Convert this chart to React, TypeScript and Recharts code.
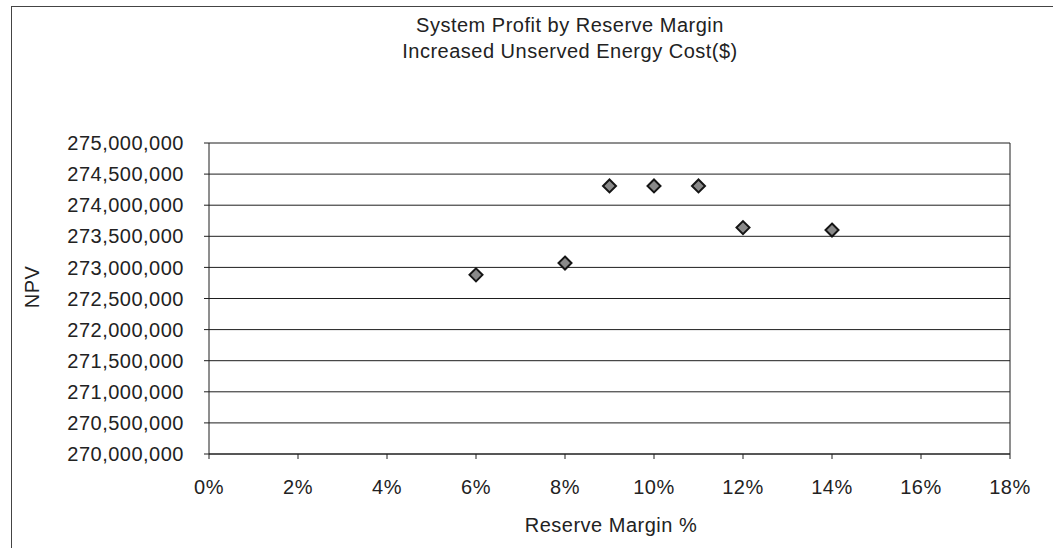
import React from 'react'
import {
  ScatterChart, Scatter, XAxis, YAxis, CartesianGrid, ReferenceLine,
} from 'recharts'

const reserveMargin = [6, 8, 9, 10, 11, 12, 14]
const npv = [272880000, 273070000, 274310000, 274310000, 274310000, 273640000, 273600000]
const xTicks = [0, 2, 4, 6, 8, 10, 12, 14, 16, 18]
const yTicks = [
  270000000, 270500000, 271000000, 271500000, 272000000, 272500000,
  273000000, 273500000, 274000000, 274500000, 275000000,
]

const points = reserveMargin.map((x, i) => ({ x, y: npv[i] }))

const FONT = '"Liberation Sans", Arial, sans-serif'

function Diamond({ cx, cy }: { cx?: number; cy?: number }) {
  if (cx == null || cy == null) return null
  const r = 6.5
  return (
    <polygon
      points={`${cx},${cy - r} ${cx + r},${cy} ${cx},${cy + r} ${cx - r},${cy}`}
      fill="#8a8a8a"
      stroke="#151515"
      strokeWidth={2}
    />
  )
}

export default function App() {
  return (
    <div style={{ position: 'fixed', left: 0, top: 0, width: 1053, height: 548, background: '#fff', fontFamily: FONT, letterSpacing: 0.5 }}>
      {/* outer chart border, right and bottom edges fall outside the scan */}
      <div style={{ position: 'absolute', left: 11, top: 6, width: 1060, height: 560, borderLeft: '1px solid #444', borderTop: '1px solid #444' }} />
      <div style={{ position: 'absolute', left: 0, top: 0 }}>
        <ScatterChart
          width={1053}
          height={548}
          margin={{ top: 143, right: 43, bottom: 54, left: 0 }}
          style={{ fontFamily: FONT, letterSpacing: 0.5 }}
        >
          <CartesianGrid vertical={false} stroke="#1e1e1e" strokeWidth={1} strokeOpacity={1} />
          <XAxis
            type="number"
            dataKey="x"
            domain={[0, 18]}
            ticks={xTicks}
            interval={0}
            tickFormatter={(v: number) => `${v}%`}
            height={40}
            stroke="#1e1e1e"
            tickSize={5}
            tickMargin={21}
            tick={{ fill: '#222', fontSize: 20 }}
          />
          <YAxis
            type="number"
            dataKey="y"
            domain={[270000000, 275000000]}
            ticks={yTicks}
            interval={0}
            tickFormatter={(v: number) => v.toLocaleString('en-US')}
            width={209}
            stroke="#1e1e1e"
            tickSize={5}
            tickMargin={20}
            tick={{ fill: '#222', fontSize: 20 }}
          />
          <ReferenceLine x={18} stroke="#1e1e1e" />
          <Scatter data={points} shape={<Diamond />} isAnimationActive={false} />
        </ScatterChart>
      </div>
      <div style={{ position: 'absolute', left: 370, width: 400, top: 12, textAlign: 'center', fontSize: 20, lineHeight: '26px', color: '#222' }}>
        System Profit by Reserve Margin
        <br />
        Increased Unserved Energy Cost($)
      </div>
      <div style={{ position: 'absolute', left: 32, top: 287, transform: 'translate(-50%, -50%) rotate(-90deg)', fontSize: 20, color: '#222' }}>
        NPV
      </div>
      <div style={{ position: 'absolute', left: 411, width: 400, top: 514, textAlign: 'center', fontSize: 20, color: '#222' }}>
        Reserve Margin %
      </div>
    </div>
  )
}
